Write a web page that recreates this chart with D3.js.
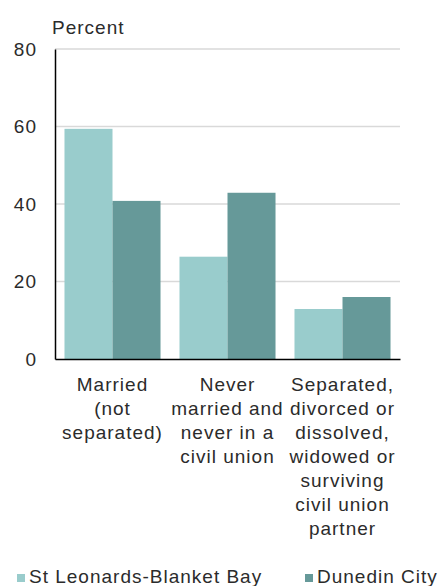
<!DOCTYPE html>
<html><head><meta charset="utf-8">
<script src="https://cdn.jsdelivr.net/npm/d3@7"></script>
<style>body{margin:0;background:#fff}svg{display:block}text{font-family:"Liberation Sans",Arial,sans-serif;fill:#2b2b2b;letter-spacing:1px}</style>
</head><body>
<script>
const categories = ["Married (not separated)", "Never married and never in a civil union", "Separated, divorced or dissolved, widowed or surviving civil union partner"];
const categoryLines = [["Married","(not","separated)"],["Never","married and","never in a","civil union"],["Separated,","divorced or","dissolved,","widowed or","surviving","civil union","partner"]];
const seriesNames = ["St Leonards-Blanket Bay", "Dunedin City"];
const stLeonards = [59.4, 26.4, 12.9];
const dunedin = [40.8, 42.9, 16.0];
const yTicks = [0, 20, 40, 60, 80];
const colors = ["#99cccc", "#669999"];

const W = 441, H = 586;
const FS = "19px";
const m = {left: 55, right: 41, top: 49, bottom: 227};
const svg = d3.select("body").append("svg").attr("width", W).attr("height", H);
const x = d3.scaleBand().domain(categories).range([m.left, W - m.right]).paddingInner(0.165).paddingOuter(0.0825);
const xs = d3.scaleBand().domain(seriesNames).range([0, x.bandwidth()]);
const y = d3.scaleLinear().domain([0, 80]).range([H - m.bottom, m.top]);

// gridlines
svg.append("g").selectAll("line").data(yTicks.filter(d => d > 0)).join("line")
  .attr("x1", m.left).attr("x2", W - m.right)
  .attr("y1", d => y(d)).attr("y2", d => y(d))
  .attr("stroke", "#d9d9d9").attr("stroke-width", 1.3);

const data = categories.map((c, i) => ({c, vals: [stLeonards[i], dunedin[i]]}));
svg.append("g").selectAll("g").data(data).join("g")
  .attr("transform", d => `translate(${x(d.c)},0)`)
  .selectAll("rect").data(d => d.vals.map((v, j) => ({v, s: seriesNames[j], j}))).join("rect")
  .attr("x", d => xs(d.s)).attr("width", xs.bandwidth())
  .attr("y", d => y(d.v)).attr("height", d => y(0) - y(d.v))
  .attr("fill", d => colors[d.j]);

// y axis
const yAxis = svg.append("g").attr("transform", `translate(${m.left},0)`)
  .call(d3.axisLeft(y).tickValues(yTicks).tickSize(0).tickPadding(18));
yAxis.select(".domain").attr("stroke", "#000").attr("stroke-width", 1.5);
yAxis.selectAll("text").style("font-size", FS).attr("fill", "#2b2b2b").style("font-family", '"Liberation Sans",Arial,sans-serif');

// x axis
const xAxis = svg.append("g").attr("transform", `translate(0,${y(0)})`)
  .call(d3.axisBottom(x).tickSize(0).tickFormat(""));
xAxis.select(".domain").attr("stroke", "#000").attr("stroke-width", 1.5);

svg.append("g").selectAll("text").data(categories).join("text")
  .attr("text-anchor", "middle")
  .attr("x", d => x(d) + x.bandwidth() / 2)
  .attr("y", y(0) + 32)
  .style("font-size", FS)
  .selectAll("tspan").data((d, i) => categoryLines[i]).join("tspan")
  .attr("x", function() { return d3.select(this.parentNode).attr("x"); })
  .attr("dy", (d, i) => i === 0 ? 0 : 24)
  .text(d => d);

svg.append("text").attr("x", 52).attr("y", 34).style("font-size", FS).text("Percent");

// legend
const legX = [17, 305];
const leg = svg.append("g").selectAll("g").data(seriesNames).join("g")
  .attr("transform", (d, i) => `translate(${legX[i]},574)`);
leg.append("rect").attr("width", 8).attr("height", 8).attr("fill", (d, i) => colors[i]);
leg.append("text").attr("x", 12).attr("y", 9).style("font-size", FS).text(d => d);
</script>
</body></html>
